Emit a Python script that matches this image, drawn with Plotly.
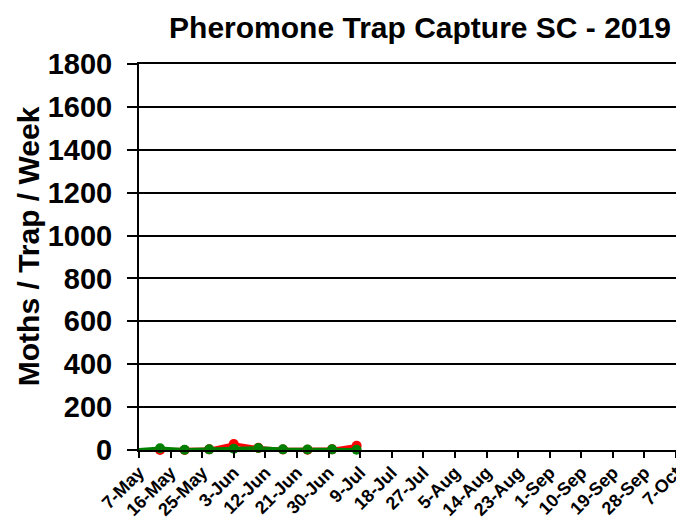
import plotly.graph_objects as go

# Data
dates = ["2019-05-06", "2019-05-13", "2019-05-20", "2019-05-27", "2019-06-03",
         "2019-06-10", "2019-06-17", "2019-06-24", "2019-07-01", "2019-07-08"]
red_vals = [0, 0, 0, 3, 28, 10, 2, 1, 3, 20]
green_vals = [0, 8, 1, 3, 6, 9, 3, 2, 3, 1]

tick_dates = ["2019-05-07", "2019-05-16", "2019-05-25", "2019-06-03", "2019-06-12",
              "2019-06-21", "2019-06-30", "2019-07-09", "2019-07-18", "2019-07-27",
              "2019-08-05", "2019-08-14", "2019-08-23", "2019-09-01", "2019-09-10",
              "2019-09-19", "2019-09-28", "2019-10-07"]
tick_labels = ["7-May", "16-May", "25-May", "3-Jun", "12-Jun", "21-Jun", "30-Jun",
               "9-Jul", "18-Jul", "27-Jul", "5-Aug", "14-Aug", "23-Aug", "1-Sep",
               "10-Sep", "19-Sep", "28-Sep", "7-Oct"]
y_ticks = [0, 200, 400, 600, 800, 1000, 1200, 1400, 1600, 1800]

RED = "#FF0000"
GREEN = "#008000"

# the page body adds an 8px offset; figure is sized to fill the rest of the window
W, H = 676, 512
ML, MT, MR, MB = 131, 56, 5, 70
PW = W - ML - MR

fig = go.Figure()
for vals, col in [(red_vals, RED), (green_vals, GREEN)]:
    fig.add_trace(go.Scatter(x=dates, y=vals, mode="lines",
                             line=dict(color=col, width=3.5), cliponaxis=True,
                             showlegend=False, hoverinfo="skip"))
for vals, col in [(red_vals, RED), (green_vals, GREEN)]:
    fig.add_trace(go.Scatter(x=dates[1:], y=vals[1:], mode="markers",
                             marker=dict(color=col, size=10), cliponaxis=False,
                             showlegend=False))

font_family = "Liberation Sans, Arial, sans-serif"
fig.update_layout(
    width=W, height=H,
    margin=dict(l=ML, r=MR, t=MT, b=MB),
    paper_bgcolor="white", plot_bgcolor="white",
    font=dict(family=font_family, color="black"),
    title=dict(text="<b>Pheromone Trap Capture SC - 2019</b>",
               font=dict(size=30, family=font_family, color="black"),
               x=412/W, xanchor="center", y=1 - 19/H, yanchor="middle"),
    showlegend=False,
)
fig.update_xaxes(
    type="date", automargin=False,
    range=["2019-05-07", "2019-10-07 20:00"],
    tickmode="array", tickvals=tick_dates, ticktext=[f"<b>{t}</b>" for t in tick_labels],
    tickangle=-45, tickfont=dict(size=18, family=font_family, color="black"),
    ticks="outside", ticklen=6, tickwidth=2, tickcolor="black",
    ticklabelstandoff=-3, ticklabeloverflow="allow",
    showline=True, linecolor="black", linewidth=2, mirror=True,
    showgrid=False, zeroline=False,
)
fig.update_yaxes(
    automargin=False,
    range=[0, 1800],
    tickmode="array", tickvals=y_ticks, ticktext=[f"<b>{v}</b>" for v in y_ticks],
    tickfont=dict(size=29, family=font_family, color="black"),
    ticks="outside", ticklen=10, tickwidth=2, tickcolor="black",
    ticklabelstandoff=9,
    showline=True, linecolor="black", linewidth=2, mirror=True,
    showgrid=True, gridcolor="black", gridwidth=1.5, zeroline=False,
)
fig.add_annotation(text="<b>Moths / Trap / Week</b>", xref="paper", yref="paper",
                   x=(20 - ML) / PW, y=0.528, textangle=-90, showarrow=False,
                   xanchor="center", yanchor="middle",
                   font=dict(size=30, family=font_family, color="black"))

fig.write_html("out.html")
